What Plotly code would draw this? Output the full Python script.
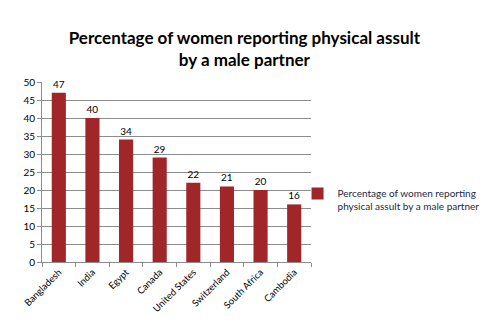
import plotly.graph_objects as go

countries = ["Bangladesh", "India", "Egypt", "Canada", "United States",
             "Switzerland", "South Africa", "Cambodia"]
percentages = [47, 40, 34, 29, 22, 21, 20, 16]
series_name = "Percentage of women reporting<br>physical assult by a male partner"
y_ticks = [0, 5, 10, 15, 20, 25, 30, 35, 40, 45, 50]

bar_color = "#A0262A"
grid_color = "#8C8C8C"
font_family = "Lato, 'Open Sans', sans-serif"

fig = go.Figure(
    go.Bar(
        x=countries,
        y=percentages,
        name=series_name,
        marker=dict(color=bar_color, line=dict(width=0)),
        text=[str(v) for v in percentages],
        textposition="outside",
        textfont=dict(size=10, color="#000000", family=font_family),
        cliponaxis=False,
        showlegend=True,
    )
)

fig.update_layout(
    width=484,
    height=330,
    margin=dict(l=42, r=173, t=82, b=68, autoexpand=False),
    paper_bgcolor="white",
    plot_bgcolor="white",
    bargap=0.58,
    title=dict(
        text="<b>Percentage of women reporting physical assult<br>by a male partner</b>",
        x=0.505,
        xanchor="center",
        y=0.868,
        yanchor="top",
        font=dict(size=17, color="#000000", family=font_family),
    ),
    legend=dict(
        x=0.95,
        xanchor="left",
        y=0.345,
        yanchor="middle",
        valign="top",
        bgcolor="rgba(0,0,0,0)",
        font=dict(size=10, color="#1F1F3F", family=font_family),
        itemwidth=30,
    ),
    font=dict(family=font_family, color="#000000"),
)

fig.update_yaxes(
    range=[0, 50],
    tickvals=y_ticks,
    showgrid=True,
    gridcolor=grid_color,
    gridwidth=1,
    showline=True,
    linecolor=grid_color,
    ticks="outside",
    ticklen=4,
    tickcolor=grid_color,
    tickfont=dict(size=10, color="#000000", family=font_family),
    zeroline=False,
    automargin=False,
)

fig.update_xaxes(
    showline=True,
    linecolor=grid_color,
    ticks="outside",
    ticklen=4,
    tickcolor=grid_color,
    tickson="boundaries",
    tickangle=-45,
    tickfont=dict(size=9.5, color="#000000", family=font_family),
    automargin=False,
)

fig.write_html("out.html")
